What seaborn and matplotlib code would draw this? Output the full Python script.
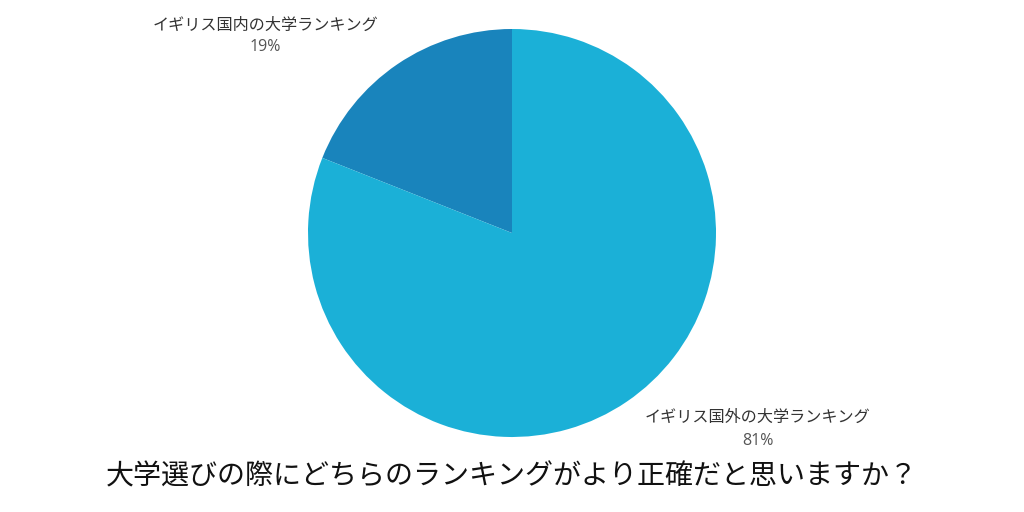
import matplotlib
matplotlib.use('Agg')

import matplotlib.pyplot as plt
import seaborn as sns

# data
labels = ['イギリス国内の大学ランキング', 'イギリス国外の大学ランキング']
shares = [19, 81]
title = '大学選びの際にどちらのランキングがより正確だと思いますか？'

sns.set_theme(style='white')
plt.rcParams['font.family'] = ['Open Sans', 'Noto Sans CJK JP', 'DejaVu Sans']

colors = sns.color_palette(['#1984BC', '#1BB0D7'])

fig = plt.figure(figsize=(10.24, 5.12), dpi=100)
fig.patch.set_facecolor('white')

# pie centre (512, 233) px, radius 204 px
ax = fig.add_axes([0.5 - 204 / 1024, 1 - (233 + 204) / 512, 408 / 1024, 408 / 512])
ax.pie(shares, colors=colors, startangle=90, counterclock=True,
       wedgeprops=dict(linewidth=0))
ax.set_xlim(-1, 1)
ax.set_ylim(-1, 1)
ax.set_aspect('equal')
ax.axis('off')

# slice labels (pixel positions from the reference)
label_pos = [(265, 26, 47), (758, 418, 441)]
for lab, val, (x, y1, y2) in zip(labels, shares, label_pos):
    fig.text(x / 1024, 1 - y1 / 512, lab, ha='center', va='center',
             fontsize=11.6, color='#333333')
    fig.text(x / 1024, 1 - y2 / 512, f'{val}%', ha='center', va='center',
             fontsize=11.5, color='#555555')

fig.text(0.5, 1 - 477 / 512, title, ha='center', va='center',
         fontsize=20.2, color='#111111')

plt.savefig('out.png', dpi=100)
